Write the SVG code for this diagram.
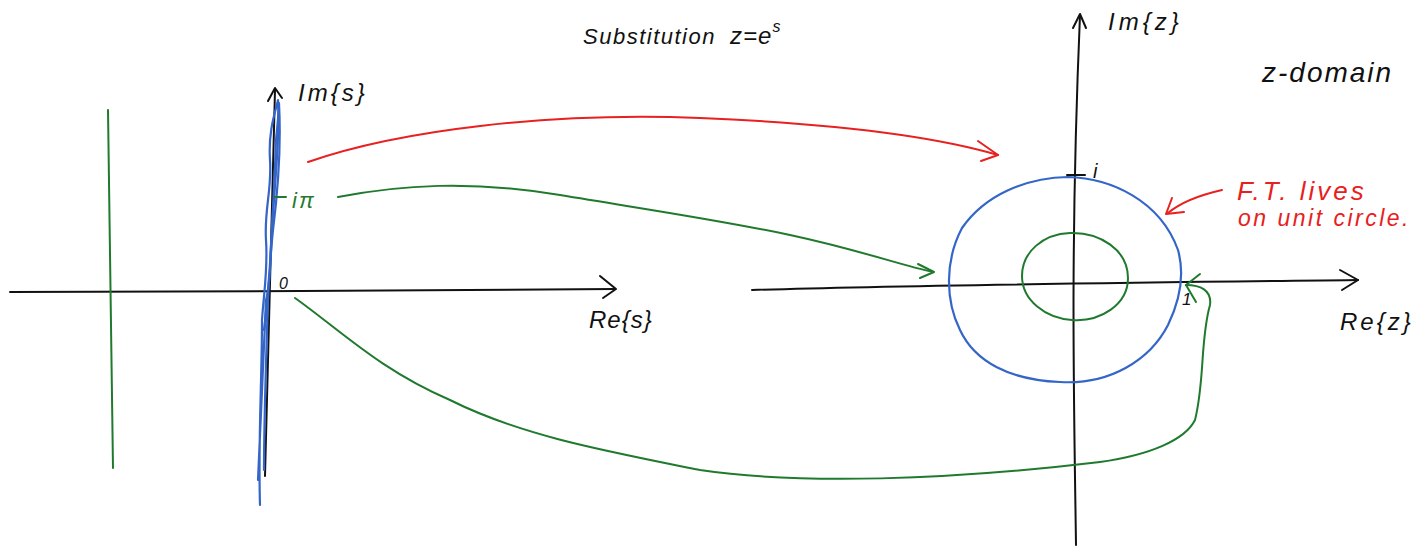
<svg xmlns="http://www.w3.org/2000/svg" width="1423" height="550" viewBox="0 0 1423 550">
<style>
.ink{fill:none;stroke-linecap:round;stroke-linejoin:round}
.k{stroke:#111;stroke-width:2}
.b{stroke:#3465c8;stroke-width:2.2}
.g{stroke:#1f7a2e;stroke-width:2}
.r{stroke:#e82020;stroke-width:2}
.t{font-family:"Liberation Sans",Arial,sans-serif;font-style:italic}
.tk{fill:#111}.tg{fill:#1f7a2e}.tr{fill:#e82020}
</style>
<rect width="1423" height="550" fill="#fff"/>
<g id="title">
<text class="t tk" x="583" y="44" font-size="22" letter-spacing="1.5">Substitution</text>
<text class="t tk" x="730" y="44" font-size="24" letter-spacing="1">z=e<tspan dy="-12" font-size="16">s</tspan></text>
</g>
<g id="s-plane">
<path class="ink k" d="M10,292 L300,291 L615,289"/>
<path class="ink k" d="M600,276 L616,289 L603,298"/>
<path class="ink k" d="M265,476 C268,380 270,250 275,90"/>
<path class="ink k" d="M268,101 L275,88 L282,98"/>
<path class="ink b" d="M260,505 C258,440 262,380 262,320 C264,290 268,270 266,240 C264,210 272,190 270,160 C268,130 276,110 278,100 C280,130 276,170 274,200 C270,240 272,280 266,300 C264,340 262,400 258,480"/>
<path class="ink b" d="M264,470 C264,420 266,360 268,300 C270,260 274,200 276,140 C278,120 279,108 279,103 C281,140 278,190 273,230 C269,270 268,300 264,330"/>
<path class="ink g" d="M108,110 C110,200 112,330 113,468"/>
<path class="ink g" d="M275,197 L286,197"/>
<text class="t tk" x="298" y="101" font-size="24" letter-spacing="3">Im{s}</text>
<text class="t tg" x="292" y="208" font-size="22" letter-spacing="2">iπ</text>
<text class="t tk" x="279" y="289" font-size="16">0</text>
<text class="t tk" x="589" y="328" font-size="24" letter-spacing="1">Re{s}</text>
</g>
<g id="z-plane">
<path class="ink k" d="M752,290 C900,285 1100,283 1358,280"/>
<path class="ink k" d="M1340,270 L1358,280 L1342,290"/>
<path class="ink k" d="M1076,545 C1074,400 1070,250 1080,15"/>
<path class="ink k" d="M1073,28 L1080,14 L1086,28"/>
<path class="ink b" d="M1068,177 C1110,178 1160,200 1178,250 C1185,275 1180,300 1168,325 C1150,360 1110,385 1060,382 C1010,380 975,362 960,330 C945,300 945,260 962,228 C985,195 1025,178 1068,177 Z"/>
<path class="ink g" d="M1070,233 C1100,232 1128,250 1128,278 C1128,305 1100,322 1072,320 C1045,318 1022,300 1022,276 C1022,252 1043,234 1070,233 Z"/>
<path class="ink k" d="M1067,175 L1085,175"/>
<text class="t tk" x="1093" y="178" font-size="20">i</text>
<text class="t tk" x="1182" y="305" font-size="17">1</text>
<text class="t tk" x="1108" y="30" font-size="24" letter-spacing="4">Im{z}</text>
<text class="t tk" x="1340" y="330" font-size="24" letter-spacing="3">Re{z}</text>
<text class="t tk" x="1262" y="82" font-size="28" letter-spacing="2">z-domain</text>
</g>
<g id="note">
<text class="t tr" x="1237" y="200" font-size="26" letter-spacing="3">F.T. lives</text>
<text class="t tr" x="1238" y="226" font-size="23" letter-spacing="2.5">on unit circle.</text>
<path class="ink r" d="M1222,190 C1200,195 1180,203 1168,213"/>
<path class="ink r" d="M1172,198 L1166,214 L1184,212"/>
</g>
<g id="connectors">
<path class="ink r" d="M308,162 C400,130 550,112 700,118 C820,123 930,135 998,155"/>
<path class="ink r" d="M978,141 L998,155 L981,161"/>
<path class="ink g" d="M338,197 C400,185 470,180 560,195 C650,210 720,220 790,235 C860,250 900,265 933,272"/>
<path class="ink g" d="M918,264 L934,272 L920,278"/>
<path class="ink g" d="M295,298 C340,330 380,370 450,400 C520,435 600,450 700,470 C800,485 950,480 1100,462 C1150,455 1185,440 1195,420 C1205,380 1200,340 1210,305 C1212,290 1200,285 1186,285"/>
<path class="ink g" d="M1200,274 L1186,285 L1196,302"/>
</g>
</svg>
